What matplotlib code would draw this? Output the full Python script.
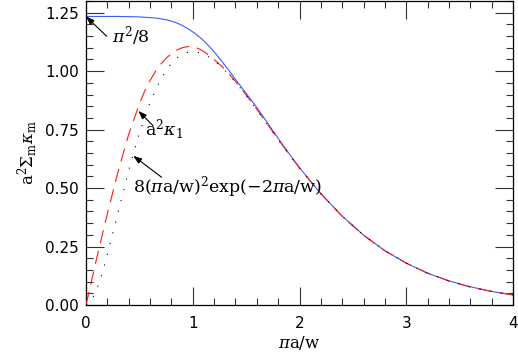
import matplotlib
matplotlib.use("Agg")
import matplotlib.pyplot as plt
from matplotlib.ticker import MultipleLocator

plt.rcParams['mathtext.fontset'] = 'dejavuserif'
plt.rcParams['font.family'] = ['DejaVu Sans']

# Blue solid: a^2 Sum_m kappa_m
x_sum = [0.0, 0.1, 0.2, 0.3, 0.4, 0.5, 0.6, 0.65, 0.7, 0.75, 0.8, 0.85, 0.9, 0.95, 1.0,
         1.05, 1.1, 1.15, 1.2, 1.25, 1.3, 1.35, 1.4, 1.45, 1.5, 1.55, 1.6, 1.7, 1.8, 1.9,
         2.0, 2.2, 2.4, 2.6, 2.8, 3.0, 3.2, 3.4, 3.6, 3.8, 4.0]
y_sum = [1.234, 1.234, 1.234, 1.234, 1.233, 1.232, 1.229, 1.227, 1.224, 1.220, 1.214,
         1.206, 1.196, 1.183, 1.168, 1.151, 1.131, 1.108, 1.083, 1.055, 1.026, 0.996,
         0.965, 0.935, 0.905, 0.875, 0.845, 0.779, 0.713, 0.649, 0.587, 0.476, 0.380,
         0.299, 0.232, 0.179, 0.136, 0.103, 0.078, 0.058, 0.043]

# Red dashed: a^2 kappa_1
x_k1 = [0.0, 0.1, 0.2, 0.3, 0.4, 0.5, 0.55, 0.6, 0.65, 0.7, 0.75, 0.8, 0.85, 0.9, 0.95,
        1.0, 1.05, 1.1, 1.15, 1.2, 1.25, 1.3, 1.35, 1.4, 1.5, 1.6, 1.7, 1.8, 1.9, 2.0,
        2.2, 2.4, 2.6, 2.8, 3.0, 3.2, 3.4, 3.6, 3.8, 4.0]
y_k1 = [0.0, 0.20, 0.39, 0.57, 0.73, 0.86, 0.915, 0.96, 0.998, 1.030, 1.055, 1.075, 1.090,
        1.100, 1.105, 1.104, 1.097, 1.085, 1.069, 1.050, 1.030, 1.008, 0.983, 0.956,
        0.898, 0.837, 0.773, 0.709, 0.646, 0.586, 0.476, 0.379, 0.298, 0.232, 0.179,
        0.136, 0.103, 0.077, 0.058, 0.043]

# Black dotted: 8(pi a/w)^2 exp(-2 pi a/w)
x_asym = [0.0, 0.05, 0.1, 0.15, 0.2, 0.3, 0.4, 0.5, 0.6, 0.7, 0.8, 0.85, 0.9, 0.95, 1.0,
          1.05, 1.1, 1.15, 1.2, 1.3, 1.4, 1.5, 1.6, 1.7, 1.8, 1.9, 2.0, 2.2, 2.4, 2.6,
          2.8, 3.0, 3.2, 3.4, 3.6, 3.8, 4.0]
y_asym = [0.0, 0.018, 0.066, 0.133, 0.215, 0.395, 0.575, 0.736, 0.867, 0.967, 1.034,
          1.056, 1.071, 1.080, 1.083, 1.080, 1.073, 1.061, 1.045, 1.004, 0.954, 0.896,
          0.835, 0.772, 0.708, 0.646, 0.586, 0.476, 0.379, 0.298, 0.232, 0.179, 0.136,
          0.103, 0.077, 0.058, 0.043]

x_ticks = [0, 1, 2, 3, 4]
x_ticklabels = ['0', '1', '2', '3', '4']
y_ticks = [0.0, 0.25, 0.5, 0.75, 1.0, 1.25]
y_ticklabels = ['0.00', '0.25', '0.50', '0.75', '1.00', '1.25']

fig = plt.figure(figsize=(5.18, 3.52), dpi=100)
ax = fig.add_axes([86/518, 1 - 305/352, 427/518, 304/352])

ax.plot(x_sum, y_sum, color='#3a5cff', lw=0.8, zorder=2)
ax.plot(x_k1, y_k1, color='#ff1a1a', lw=0.8, dashes=(12, 7), zorder=3)
ax.plot(x_asym, y_asym, color='black', lw=0.8, dashes=(1, 9), zorder=4)

ax.set_xlim(0, 4)
ax.set_ylim(0, 1.3)
ax.set_xticks(x_ticks)
ax.set_xticklabels(x_ticklabels)
ax.set_yticks(y_ticks)
ax.set_yticklabels(y_ticklabels)
ax.xaxis.set_minor_locator(MultipleLocator(0.2))
ax.yaxis.set_minor_locator(MultipleLocator(0.05))
ax.tick_params(which='both', direction='in', top=True, right=True, color='#333333', width=0.8)
ax.tick_params(which='major', length=13)
ax.tick_params(which='minor', length=5)
ax.tick_params(axis='x', which='major', pad=8, labelsize=11)
ax.tick_params(axis='y', which='major', pad=5, labelsize=11)
for s in ax.spines.values():
    s.set_linewidth(0.9)

ax.set_xlabel(r'$\pi\mathrm{a/w}$', fontsize=12, labelpad=2)
ax.set_ylabel(r'$\mathrm{a}^2\Sigma_\mathrm{m}\kappa_\mathrm{m}$', fontsize=12, labelpad=4)

arrow = dict(arrowstyle='-|>,head_length=0.5,head_width=0.18', color='black', lw=0.8,
             shrinkA=0, shrinkB=0)
ax.annotate('', xy=(0.0, 1.234), xytext=(0.194, 1.149), arrowprops=arrow)
ax.text(0.24, 1.123, r'$\pi^2/8$', fontsize=12.5, ha='left', va='baseline')

ax.annotate('', xy=(0.49, 0.83), xytext=(0.63, 0.766), arrowprops=arrow)
ax.text(0.552, 0.723, r'$\mathrm{a}^2\kappa_1$', fontsize=12.5, ha='left', va='baseline')

ax.annotate('', xy=(0.443, 0.638), xytext=(0.709, 0.546), arrowprops=arrow)
ax.text(0.44, 0.482, r'$8(\pi\mathrm{a/w})^2\mathrm{exp}(-2\pi\mathrm{a/w})$', fontsize=12.5,
        ha='left', va='baseline')

fig.savefig('out.png', dpi=100)
